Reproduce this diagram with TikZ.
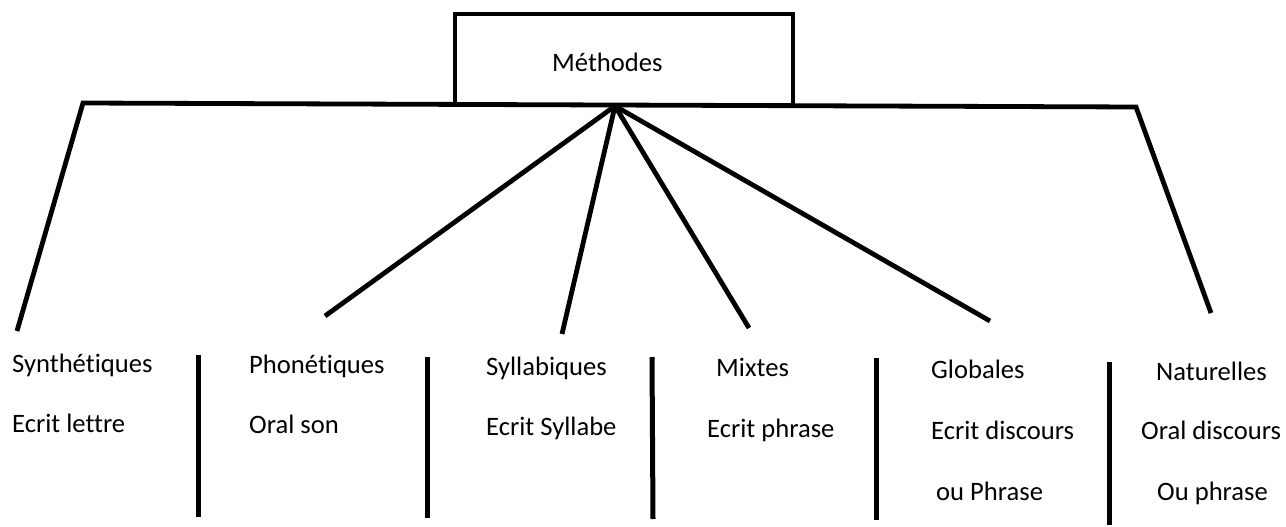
\documentclass[tikz,border=0pt]{standalone}
\usepackage{fontspec}
\setmainfont{Carlito}[Ligatures=NoCommon]
\begin{document}
\begin{tikzpicture}[x=1pt,y=-1pt,
  ln/.style={line width=4.8pt},
  bar/.style={line width=5pt},
  lbl/.style={anchor=base west,inner sep=0pt,font=\fontsize{26.6}{32}\selectfont}]
\useasboundingbox (0,0) rectangle (1286,527);
% title box
\node (box) [draw,line width=4pt,minimum width=338pt,minimum height=91pt,inner sep=0pt] at (624,59.5) {};
\node (title) [lbl] at (552,71) {Méthodes};
% corner and hub coordinates
\coordinate (hub) at (615,106);
\coordinate (lt) at (83,103);
\coordinate (rt) at (1136,107);
\coordinate (lb) at (17,331);
\coordinate (rb) at (1211,313);
\coordinate (pb) at (325,316);
\coordinate (sb) at (562,334);
\coordinate (mb) at (749,328);
\coordinate (gb) at (990,321);
% frame lines
\draw[ln] (lb) -- (lt) -- (rt) -- (rb);
\draw[ln] (hub) -- (pb);
\draw[ln] (hub) -- (sb);
\draw[ln] (hub) -- (mb);
\draw[ln] (hub) -- (gb);
% labels
\node (syn) [lbl] at (12,372) {Synthétiques};
\node (syn2) [lbl] at (12,432) {Ecrit lettre};
\node (pho) [lbl] at (249,373) {Phonétiques};
\node (pho2) [lbl] at (249,433) {Oral son};
\node (syl) [lbl] at (486,375) {Syllabiques};
\node (syl2) [lbl] at (486,435) {Ecrit Syllabe};
\node (mix) [lbl] at (716,376) {Mixtes};
\node (mix2) [lbl] at (707,437) {Ecrit phrase};
\node (glo) [lbl] at (931,378) {Globales};
\node (glo2) [lbl] at (931,439) {Ecrit discours};
\node (glo3) [lbl] at (936,500) {ou Phrase};
\node (nat) [lbl] at (1156,380) {Naturelles};
\node (nat2) [lbl] at (1141,439) {Oral discours};
\node (nat3) [lbl] at (1157,500) {Ou phrase};
% separator bars
\coordinate (b1t) at (198,355); \coordinate (b1b) at (198,517);
\coordinate (b2t) at (427,357); \coordinate (b2b) at (427,518);
\coordinate (b3t) at (652,357); \coordinate (b3b) at (653,519);
\coordinate (b4t) at (876,358); \coordinate (b4b) at (876,520);
\coordinate (b5t) at (1109,362); \coordinate (b5b) at (1109,525);
\draw[bar] (b1t) -- (b1b);
\draw[bar] (b2t) -- (b2b);
\draw[bar] (b3t) -- (b3b);
\draw[bar] (b4t) -- (b4b);
\draw[bar] (b5t) -- (b5b);
\end{tikzpicture}
\end{document}
